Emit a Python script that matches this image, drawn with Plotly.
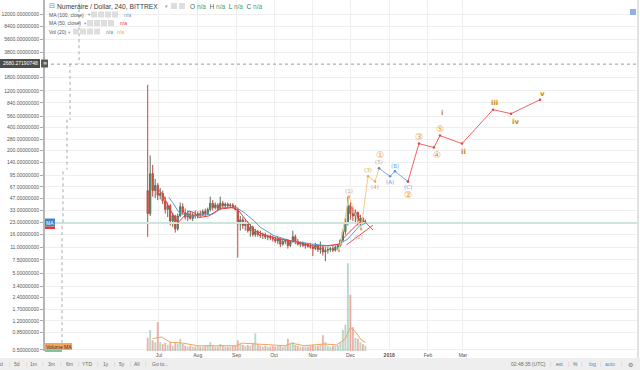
import numpy as np
import pandas as pd
import plotly.graph_objects as go

# ---------------- data ----------------
candle_dates = pd.date_range("2017-06-22", periods=88, freq="2D")
opens = [60, 30, 100, 60, 70, 52, 55, 44, 34, 38, 24, 28, 19, 28, 37, 31, 27, 30, 26, 29,
         28, 30, 29, 32, 30, 34, 41, 36, 39, 35, 41, 38, 40, 38, 39, 37, 34, 22, 25, 21,
         23, 18, 20, 16, 17.5, 16, 15.5, 16, 14.8, 15.2, 14.5, 14, 13.2, 14, 12, 13, 13.5, 11.5, 13, 15,
         13, 12, 12.5, 11.5, 12, 11.2, 11, 10.5, 11.5, 10.2, 10.8, 9.5, 10, 10.2, 10.5, 10, 11, 11.5, 13.5, 17.5,
         23, 38, 30, 28, 31, 24, 26, 23]
highs = [1440, 172, 130, 85, 75, 65, 60, 50, 42, 40, 31, 29, 30, 42, 41, 35, 33, 32, 31, 33,
         32, 33, 34, 35, 36, 50, 45, 42, 41, 50, 44, 42, 42, 41, 41, 39, 36, 28, 27, 25,
         24, 22, 21, 19, 18.5, 18, 17, 17, 16, 16, 15.5, 15, 15, 14.5, 14, 14, 14, 13.5, 18, 16,
         14, 13, 13, 12.5, 12.5, 12.5, 12, 12.5, 12, 13, 11.5, 11, 11, 11, 11.5, 11.5, 12, 14, 19, 26,
         50, 42, 37, 34, 32, 29, 27, 25]
lows = [15, 28, 50, 48, 45, 46, 40, 30, 27, 21, 20, 17, 18, 27, 29, 25, 24, 25, 24, 26,
        26, 27, 28, 28, 29, 32, 33, 34, 33, 34, 36, 35, 36, 36, 35, 33, 8, 18, 19, 18,
        17, 15, 15, 15, 15, 14.5, 14, 14, 13.5, 13.5, 13, 12.5, 12, 11, 11.5, 12, 10.5, 11, 12.5, 12,
        11.5, 11, 11, 10.5, 10.8, 10.5, 8.4, 10, 9.5, 9, 8.5, 7.2, 9, 9.5, 9.5, 9.6, 10, 11, 13, 16,
        21, 25, 24, 22, 21, 21, 22, 22]
closes = [30, 100, 60, 70, 52, 55, 44, 34, 38, 24, 28, 19, 28, 37, 31, 27, 30, 26, 29, 28,
          30, 29, 32, 30, 34, 41, 36, 39, 35, 41, 38, 40, 38, 39, 37, 34, 22, 25, 21, 23,
          18, 20, 16, 17.5, 16, 15.5, 16, 14.8, 15.2, 14.5, 14, 13.2, 14, 12, 13, 13.5, 11.5, 13, 15, 13,
          12, 12.5, 11.5, 12, 11.2, 11, 10.5, 11.5, 10.2, 10.8, 9.5, 10, 10.2, 10.5, 10, 11, 11.5, 13.5, 17.5, 23,
          38, 30, 28, 31, 24, 26, 23, 23.5]
volumes = [15, 24, 12, 10, 33, 10, 8, 9, 7, 10, 6, 9, 8, 14, 8, 6, 5, 6, 5, 5,
           6, 5, 5, 6, 7, 10, 6, 5, 5, 8, 6, 5, 5, 5, 6, 6, 12, 8, 7, 6,
           7, 6, 9, 20, 8, 6, 5, 6, 5, 5, 6, 5, 6, 6, 5, 6, 14, 8, 10, 7,
           6, 5, 5, 5, 5, 6, 7, 6, 6, 8, 18, 10, 6, 5, 6, 6, 7, 10, 24, 30,
           100, 64, 27, 15, 14, 10, 8, 6]

ma50_dates = ["2017-06-30 10:00", "2017-07-04", "2017-07-09", "2017-07-16", "2017-07-17", "2017-07-25",
              "2017-07-29", "2017-08-02", "2017-08-10", "2017-08-18", "2017-08-29", "2017-09-03",
              "2017-09-10", "2017-09-16", "2017-09-25", "2017-10-06", "2017-10-19", "2017-11-01",
              "2017-11-12", "2017-11-22", "2017-11-26", "2017-12-03", "2017-12-08", "2017-12-13"]
ma50_vals = [62, 53.7, 36, 23, 23.5, 32.5, 31, 26.7, 28, 34.3, 36, 32.5,
             23, 17.9, 15.5, 14, 12.8, 11.4, 11.4, 12, 14.7, 18.8, 23, 24]
ma100_dates = ["2017-07-09", "2017-07-12", "2017-07-17", "2017-07-21", "2017-07-28", "2017-08-13",
               "2017-08-21", "2017-09-01", "2017-09-07", "2017-09-15", "2017-09-20", "2017-10-01",
               "2017-10-14", "2017-11-01", "2017-11-14", "2017-11-22", "2017-11-29", "2017-12-08",
               "2017-12-13"]
ma100_vals = [48.6, 41.9, 31, 29.5, 28, 29.5, 36, 36, 31, 24.2, 19.9, 15.5,
              13.3, 12, 11.4, 12, 14, 20.6, 22.5]
volma_dates = ["2017-06-26", "2017-07-03", "2017-07-10", "2017-07-20", "2017-08-01", "2017-08-15",
               "2017-09-01", "2017-09-05", "2017-09-15", "2017-09-25", "2017-10-10", "2017-10-15",
               "2017-10-25", "2017-11-10", "2017-11-20", "2017-11-27", "2017-12-01", "2017-12-05",
               "2017-12-10", "2017-12-13"]
volma_vals = [14, 16, 10, 9, 6, 6, 6, 9, 8, 7, 6, 9, 6, 8, 7, 14, 27, 22, 12, 10]

last_price = 22.6
marked_price = 2680.27190748

# projection drawings (time, price)
minor_wave_dates = ["2017-11-21 21:00", "2017-11-29 21:00", "2017-12-09 12:00",
                    "2017-12-15 02:00", "2017-12-20 17:00", "2017-12-23 21:00"]
minor_wave_prices = [9.8, 50, 18.8, 92, 79, 117]
abc_dates = ["2017-12-23 21:00", "2018-01-01 17:00", "2018-01-05 14:00", "2018-01-16 00:00"]
abc_prices = [117, 92, 107, 79]
major_dates = ["2018-01-16 00:00", "2018-01-24 19:00", "2018-02-05 19:00", "2018-02-10 14:00",
               "2018-02-28 05:00", "2018-03-25 00:00", "2018-04-08 10:00", "2018-05-01 14:00"]
major_prices = [79, 246, 219, 313, 246, 682, 605, 920]
tri_upper_dates = ["2017-11-29 21:00", "2017-12-19 02:00"]
tri_upper_prices = [38.6, 18.3]
tri_lower_dates = ["2017-11-27 17:00", "2017-12-19 02:00"]
tri_lower_prices = [11.7, 21.2]
guide_dates = ["2017-04-28 03:00", "2017-04-28 03:00", None,
               "2017-04-20 22:00", "2017-04-20 22:00", None,
               "2017-04-18 12:00", "2017-04-18 12:00", None,
               "2017-04-15 07:00", "2017-04-15 07:00", None,
               "2017-04-14 12:00", "2017-04-14 12:00"]
guide_prices = [20000, 2700, None, 2700, 505, None, 505, 113, None, 107, 21.9, None, 20.6, 0.45]

label_texts = ["(1)", "(2)", "(3)", "(4)", "(5)", "①", "(A)", "(B)", "(C)", "②",
               "③", "④", "⑤", "i", "ii", "iii", "iv", "v"]
label_dates = ["2017-11-29 21:00", "2017-12-07 21:00", "2017-12-15 02:00", "2017-12-20 17:00",
               "2017-12-23 21:00", "2017-12-24 17:00", "2018-01-01 17:00", "2018-01-05 14:00",
               "2018-01-16 00:00", "2018-01-16 00:00", "2018-01-24 19:00", "2018-02-08 05:00",
               "2018-02-10 14:00", "2018-02-12 05:00", "2018-03-01 19:00", "2018-03-25 19:00",
               "2018-04-11 14:00", "2018-05-03 05:00"]
label_prices = [58.7, 14.8, 110, 66, 140, 177, 77, 124, 66, 52, 304, 177, 386, 623, 194, 840, 476, 1100]
label_kinds = ["minor", "minor", "minor", "minor", "minor", "circle", "abc", "abc", "abc", "circle",
               "circle", "circle", "circle", "roman", "roman", "roman", "roman", "roman"]

y_tick_vals = [0.5, 0.85, 1.2, 1.7, 2.4, 3.4, 5.0, 7.5, 11, 16, 23, 33, 47, 67, 95, 140, 200,
               280, 400, 560, 840, 1200, 1800, 3800, 5600, 8400, 12000]
month_ticks = ["2017-07-01", "2017-08-01", "2017-09-01", "2017-10-01", "2017-11-01",
               "2017-12-01", "2018-01-01", "2018-02-01", "2018-03-01"]
month_labels = ["Jul", "Aug", "Sep", "Oct", "Nov", "Dec", "<b>2018</b>", "Feb", "Mar"]

X_RANGE = ["2017-03-31 22:00", "2018-07-18 02:00"]
Y_RANGE_LOG = [-0.315, 4.265]

# ---------------- figure ----------------
W, H = 640, 370
ML, MR, MT, MB = 45, 3, 0, 19
PW, PH = W - ML - MR, H - MT - MB


def px(x):
    return (x - ML) / PW


def py(y):
    return (H - MB - y) / PH


FONT = "Liberation Sans, Arial, sans-serif"
fig = go.Figure()

vol_colors = ["rgba(107,165,131,0.45)" if c >= o else "rgba(215,84,66,0.45)"
              for o, c in zip(opens, closes)]
fig.add_trace(go.Bar(x=candle_dates, y=volumes, marker=dict(color=vol_colors, line=dict(width=0)),
                     yaxis="y2", showlegend=False, hoverinfo="skip"))
fig.add_trace(go.Scatter(x=volma_dates, y=volma_vals, mode="lines", yaxis="y2",
                         line=dict(color="#f5a35a", width=1), showlegend=False, hoverinfo="skip"))

# reference horizontal lines
fig.add_trace(go.Scatter(x=X_RANGE, y=[last_price, last_price], mode="lines",
                         line=dict(color="#cfe4da", width=2), showlegend=False, hoverinfo="skip"))
fig.add_trace(go.Scatter(x=X_RANGE, y=[marked_price, marked_price], mode="lines",
                         line=dict(color="#9a9a9a", width=1, dash="dot"), showlegend=False, hoverinfo="skip"))
fig.add_trace(go.Scatter(x=guide_dates, y=guide_prices, mode="lines",
                         line=dict(color="#a8a8a8", width=1, dash="dot"), showlegend=False,
                         hoverinfo="skip", connectgaps=False))

fig.add_trace(go.Candlestick(
    x=candle_dates, open=opens, high=highs, low=lows, close=closes,
    increasing=dict(line=dict(color="#4f7560", width=1), fillcolor="#6ba583"),
    decreasing=dict(line=dict(color="#c0473c", width=1), fillcolor="#d75442"),
    whiskerwidth=0, showlegend=False, hoverinfo="skip"))

fig.add_trace(go.Scatter(x=ma100_dates, y=ma100_vals, mode="lines",
                         line=dict(color="#5b9bd5", width=1), showlegend=False, hoverinfo="skip"))
fig.add_trace(go.Scatter(x=ma50_dates, y=ma50_vals, mode="lines",
                         line=dict(color="#ee3b3b", width=1), showlegend=False, hoverinfo="skip"))

# drawings
fig.add_trace(go.Scatter(x=tri_upper_dates, y=tri_upper_prices, mode="lines",
                         line=dict(color="#f05050", width=1), showlegend=False, hoverinfo="skip"))
fig.add_trace(go.Scatter(x=tri_lower_dates, y=tri_lower_prices, mode="lines",
                         line=dict(color="#f05050", width=1), showlegend=False, hoverinfo="skip"))
fig.add_trace(go.Scatter(x=minor_wave_dates, y=minor_wave_prices, mode="lines+markers",
                         line=dict(color="#f9c88c", width=1), marker=dict(size=2.5, color="#f3a64d"),
                         showlegend=False, hoverinfo="skip"))
fig.add_trace(go.Scatter(x=abc_dates, y=abc_prices, mode="lines+markers",
                         line=dict(color="#7ea7e8", width=1), marker=dict(size=2.5, color="#5b8fe0"),
                         showlegend=False, hoverinfo="skip"))
fig.add_trace(go.Scatter(x=major_dates, y=major_prices, mode="lines+markers",
                         line=dict(color="#f26464", width=1), marker=dict(size=2.5, color="#e84545"),
                         showlegend=False, hoverinfo="skip"))

annotations = []
kind_style = {
    "minor": dict(color="#cfa46c", size=5.5, bold=False),
    "circle": dict(color="#e69a3c", size=9, bold=False),
    "abc": dict(color="#6d9be6", size=5.5, bold=False),
    "roman": dict(color="#c58a12", size=7, bold=True),
}
for t, d, p, k in zip(label_texts, label_dates, label_prices, label_kinds):
    st = kind_style[k]
    annotations.append(dict(
        x=d, y=float(np.log10(p)), xref="x", yref="y", text=("<b>%s</b>" % t) if st["bold"] else t,
        showarrow=False, font=dict(family="DejaVu Sans, " + FONT, size=st["size"], color=st["color"]),
        xanchor="center", yanchor="middle"))

# ---------- header legend ----------
def txt(x, y, s, size=5, color="#555", anchor="left", family=FONT):
    annotations.append(dict(x=px(x), y=py(y), xref="paper", yref="paper", text=s, showarrow=False,
                            xanchor=anchor, yanchor="middle", font=dict(family=family, size=size, color=color)))


shapes = []


def box(x0, y0, x1, y1, fill, line=None):
    shapes.append(dict(type="rect", xref="paper", yref="paper", x0=px(x0), x1=px(x1), y0=py(y1), y1=py(y0),
                       fillcolor=fill, line=dict(width=0 if line is None else 1, color=line or fill),
                       layer="above"))


txt(46.5, 6, "⊟", size=7, color="#888", family="DejaVu Sans")
txt(54.5, 6, "Numeraire / Dollar, 240, BITTREX", size=6.7, color="#3a3a3a")
txt(163, 6.5, "▾", size=5, color="#999", family="DejaVu Sans")
box(171, 3, 177, 9, "#dedede")
box(179, 3, 185, 9, "#dedede")
txt(187.5, 6, "O <span style='color:#41a36a'>n/a</span>  H <span style='color:#41a36a'>n/a</span>  "
              "L <span style='color:#41a36a'>n/a</span>  C <span style='color:#41a36a'>n/a</span>",
    size=6.5, color="#4a6a55")

txt(46.5, 14.5, "MA (100, close)", size=5)
txt(85.5, 15, "▾", size=4.5, color="#999", family="DejaVu Sans")
for i in range(4):
    box(91 + 7 * i, 11.5, 97 + 7 * i, 17.5, "#dedede")
txt(121.5, 14.5, "n/a", size=5, color="#5b9bd5")

txt(46.5, 23, "MA (50, close)", size=5)
txt(82, 23.5, "▾", size=4.5, color="#999", family="DejaVu Sans")
for i in range(4):
    box(87 + 7 * i, 20, 93 + 7 * i, 26, "#dedede")
txt(118, 23, "n/a", size=5, color="#e53935")

txt(46.5, 31.5, "Vol (20)", size=5)
txt(66, 32, "▾", size=4.5, color="#999", family="DejaVu Sans")
for i in range(4):
    box(73 + 7 * i, 28.5, 79 + 7 * i, 34.5, "#dedede")
txt(103.5, 31.5, "n/a", size=5, color="#41a36a")
txt(114.5, 31.5, "n/a", size=5, color="#f5a35a")

# price scale labels
box(0, 59, 40, 68, "#4d4d4d")
txt(20, 63.5, "2680.27190748", size=5, color="#ffffff", anchor="center")
box(41, 59.5, 48, 67.5, "#5a5a5a")
txt(44.5, 63.5, "≡", size=5, color="#ffffff", anchor="center", family="DejaVu Sans")
box(45, 218.5, 55, 226.5, "#3f87c9")
txt(50, 222.5, "MA", size=5, color="#ffffff", anchor="center")
box(45, 226.5, 55, 229, "#e53935")
box(45, 343, 72, 350, "#f6a35e")
txt(58.5, 346.5, "Volume MA", size=5, color="#333", anchor="center")
box(45, 350, 62, 352, "#7fc49b")

# right edge
shapes.append(dict(type="line", xref="paper", yref="paper", x0=px(638), x1=px(638), y0=py(H), y1=py(0),
                   line=dict(color="#e2e2e2", width=2), layer="above"))
box(630, 9, 636, 15, "#8fb2ea")

# bottom toolbar
box(-2, 358, 642, 371, "#eeeeee")
for xc, s in [(1.5, "d"), (17, "5d"), (33, "1m"), (51, "3m"), (69, "6m"), (87, "YTD"), (106, "1y"),
              (122, "5y"), (137, "All"), (160, "Go to...")]:
    txt(xc, 364, s, size=5, color="#6a6a6a", anchor="center")
for xs in [9, 26, 42, 60, 78, 97, 114, 130, 145, 550, 568, 581, 600, 621]:
    txt(xs, 364, "|", size=5, color="#c8c8c8", anchor="center")
txt(528, 364, "02:48:35 (UTC)", size=5, color="#6a6a6a", anchor="center")
txt(559, 364, "ext", size=5, color="#6a6a6a", anchor="center")
txt(575, 364, "%", size=5, color="#6a6a6a", anchor="center")
txt(592, 364, "log", size=5, color="#3d8fd6", anchor="center")
txt(610, 364, "auto", size=5, color="#3d8fd6", anchor="center")
txt(630, 364, "⚙", size=6, color="#777", anchor="center", family="DejaVu Sans")

fig.update_layout(
    width=W, height=H, margin=dict(l=ML, r=MR, t=MT, b=MB, pad=0),
    paper_bgcolor="white", plot_bgcolor="white",
    font=dict(family=FONT, size=5, color="#555"),
    showlegend=False, hovermode=False, bargap=0.25,
    xaxis=dict(type="date", range=X_RANGE, tickmode="array", tickvals=month_ticks, ticktext=month_labels,
               showgrid=True, gridcolor="#efefef", gridwidth=1, zeroline=False, showline=False,
               ticks="", tickfont=dict(size=5, color="#555"), rangeslider=dict(visible=False),
               fixedrange=True),
    yaxis=dict(type="log", range=Y_RANGE_LOG, tickmode="array", tickvals=y_tick_vals,
               ticktext=["%.8f" % v for v in y_tick_vals], side="left",
               showgrid=True, gridcolor="#efefef", gridwidth=1, zeroline=False,
               showline=True, linecolor="#b5b5b5", linewidth=2, ticks="outside", ticklen=3,
               tickcolor="#aaaaaa", tickfont=dict(size=5, color="#555"), fixedrange=True),
    yaxis2=dict(overlaying="y", range=[0, 400], visible=False, fixedrange=True),
    annotations=annotations, shapes=shapes,
)

fig.write_html("out.html", config=dict(displayModeBar=False),
               post_script="document.body.style.margin='0';document.body.style.overflow='hidden';")
